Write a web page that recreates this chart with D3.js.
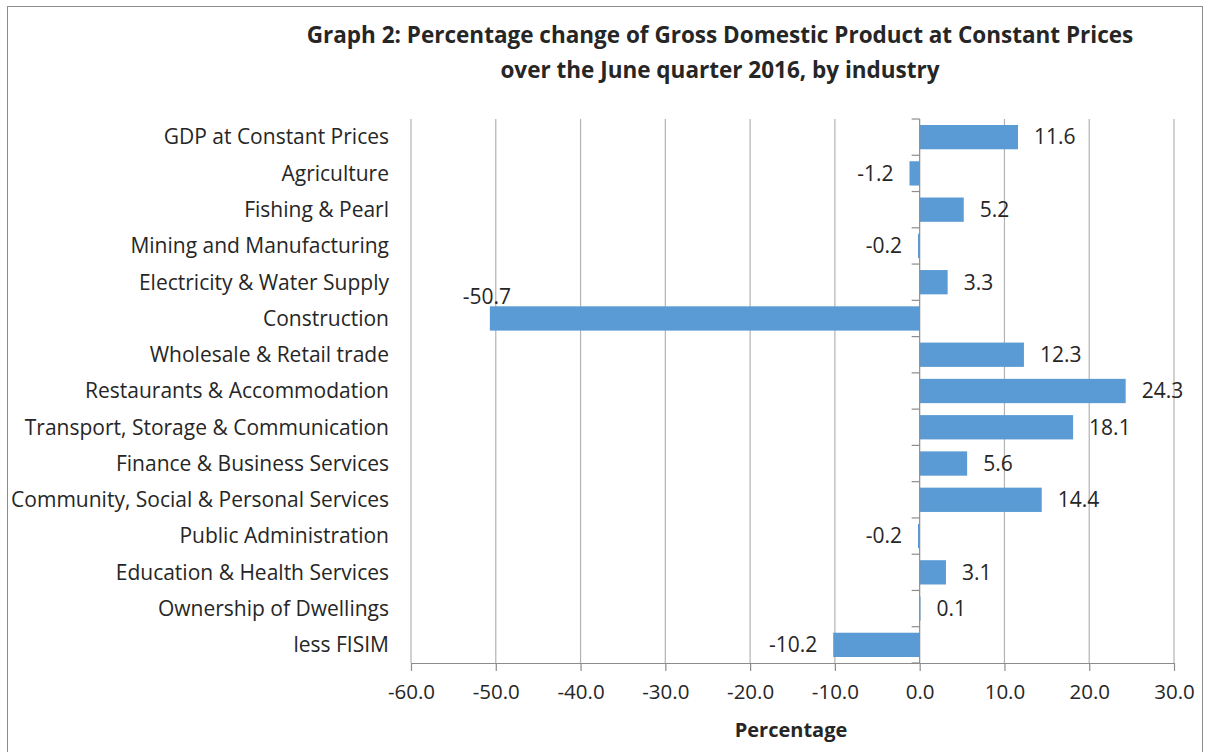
<!DOCTYPE html>
<html>
<head>
<meta charset="utf-8">
<script src="https://cdn.jsdelivr.net/npm/d3@7"></script>
<style>
  body { margin: 0; background: #fff; }
  svg text { font-family: "Open Sans", "Noto Sans", sans-serif; fill: #262626; }
</style>
</head>
<body>
<div id="chart"></div>
<script>
// Data
const industries = [
    "GDP at Constant Prices", "Agriculture", "Fishing & Pearl",
    "Mining and Manufacturing", "Electricity & Water Supply", "Construction",
    "Wholesale & Retail trade", "Restaurants & Accommodation",
    "Transport, Storage & Communication", "Finance & Business Services",
    "Community, Social & Personal Services", "Public Administration",
    "Education & Health Services", "Ownership of Dwellings", "less FISIM"
];
const changes = [11.6, -1.2, 5.2, -0.2, 3.3, -50.7, 12.3, 24.3, 18.1, 5.6, 14.4, -0.2, 3.1, 0.1, -10.2];
const xTicks = [-60, -50, -40, -30, -20, -10, 0, 10, 20, 30];

const chartWidth = 1205;
const chartHeight = 752;
const plotLeft = 411, plotRight = 1174, plotTop = 119, plotBottom = 663;
const fmt = d => d3.format(".1f")(d).replace("\u2212", "-");

const data = industries.map((d, i) => ({name: d, value: changes[i]}));

const xScale = d3.scaleLinear()
    .domain([-60, 30])
    .range([plotLeft, plotRight]);

const yScale = d3.scaleBand()
    .domain(industries)
    .range([plotTop, plotBottom])
    .paddingInner(0.33)
    .paddingOuter(0.165);

const svg = d3.select("#chart")
    .append("svg")
    .attr("width", chartWidth)
    .attr("height", chartHeight);

// outer border
svg.append("rect")
    .attr("x", 7.5).attr("y", 6.5)
    .attr("width", chartWidth - 10).attr("height", chartHeight - 4)
    .attr("fill", "none")
    .attr("stroke", "#8c8c8c")
    .attr("stroke-width", 1);

// title
const title = svg.append("text")
    .attr("text-anchor", "middle")
    .attr("font-size", 22.5)
    .attr("font-weight", "bold");
title.append("tspan").attr("x", 720).attr("y", 43)
    .text("Graph 2: Percentage change of Gross Domestic Product at Constant Prices");
title.append("tspan").attr("x", 720).attr("y", 78)
    .text("over the June quarter 2016, by industry");

// gridlines
svg.append("g")
    .selectAll("line")
    .data(xTicks.filter(d => d !== 0))
    .join("line")
    .attr("x1", d => xScale(d)).attr("x2", d => xScale(d))
    .attr("y1", plotTop).attr("y2", plotBottom)
    .attr("stroke", "#b3b3b3")
    .attr("stroke-width", 1.2);

// x axis
const xAxis = d3.axisBottom(xScale)
    .tickValues(xTicks)
    .tickFormat(fmt)
    .tickSize(8)
    .tickSizeOuter(0)
    .tickPadding(13);

const gx = svg.append("g")
    .attr("transform", "translate(0," + plotBottom + ")")
    .call(xAxis);
gx.select(".domain").attr("stroke", "#8c8c8c").attr("stroke-width", 1.2);
gx.selectAll(".tick line").attr("stroke", "#8c8c8c").attr("stroke-width", 1.2);
gx.selectAll(".tick text")
    .attr("font-size", 20.5)
    .attr("fill", "#262626")
    .attr("font-family", "'Open Sans', sans-serif");

// bars
svg.append("g")
    .selectAll("rect")
    .data(data)
    .join("rect")
    .attr("x", d => xScale(Math.min(0, d.value)))
    .attr("y", d => yScale(d.name))
    .attr("width", d => Math.abs(xScale(d.value) - xScale(0)))
    .attr("height", yScale.bandwidth())
    .attr("fill", "#5b9bd5");

// y axis at zero
svg.append("line")
    .attr("x1", xScale(0)).attr("x2", xScale(0))
    .attr("y1", plotTop).attr("y2", plotBottom)
    .attr("stroke", "#8c8c8c")
    .attr("stroke-width", 1.2);

const rowH = (plotBottom - plotTop) / industries.length;
svg.append("g")
    .selectAll("line")
    .data(d3.range(industries.length + 1))
    .join("line")
    .attr("x1", xScale(0) - 8).attr("x2", xScale(0))
    .attr("y1", i => plotTop + i * rowH)
    .attr("y2", i => plotTop + i * rowH)
    .attr("stroke", "#8c8c8c")
    .attr("stroke-width", 1.2);

// category labels
svg.append("g")
    .selectAll("text")
    .data(data)
    .join("text")
    .attr("x", 389)
    .attr("y", d => yScale(d.name) + yScale.bandwidth() / 2)
    .attr("dy", "0.35em")
    .attr("text-anchor", "end")
    .attr("font-size", 21)
    .text(d => d.name);

// value labels
svg.append("g")
    .selectAll("text")
    .data(data)
    .join("text")
    .attr("x", d => {
        if (d.value < -40) return xScale(d.value) - 3;
        if (d.value < 0) return Math.min(xScale(d.value), xScale(0)) - 16;
        return xScale(d.value) + 16;
    })
    .attr("y", d => d.value < -40
        ? yScale(d.name) - 10
        : yScale(d.name) + yScale.bandwidth() / 2)
    .attr("dy", "0.35em")
    .attr("text-anchor", d => d.value < -40 ? "middle" : (d.value < 0 ? "end" : "start"))
    .attr("font-size", 21)
    .text(d => fmt(d.value));

// x axis title
svg.append("text")
    .attr("x", 791)
    .attr("y", 737)
    .attr("text-anchor", "middle")
    .attr("font-size", 20)
    .attr("font-weight", "bold")
    .text("Percentage");
</script>
</body>
</html>
